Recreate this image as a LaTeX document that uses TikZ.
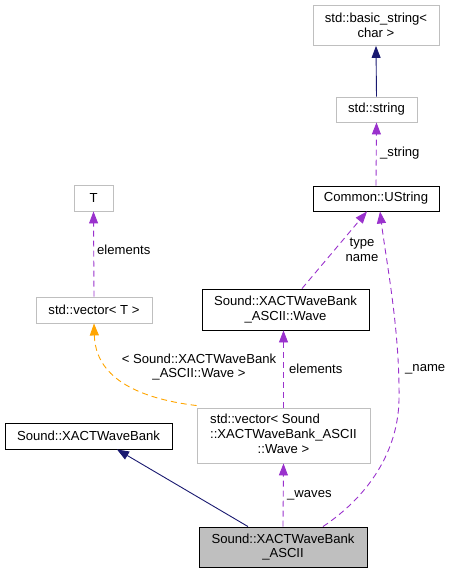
\documentclass[tikz,border=0pt]{standalone}
\usepackage{fontspec}
\setmainfont{Liberation Sans}
\usepackage{tikz}
\usetikzlibrary{arrows.meta,positioning,calc}

\definecolor{navyedge}{HTML}{191970}
\definecolor{purpleedge}{HTML}{9A32CD}
\definecolor{orangeedge}{HTML}{FFA500}
\definecolor{grayline}{HTML}{BFBFBF}

\begin{document}
\begin{tikzpicture}[x=1pt,y=-1pt,
    font=\fontsize{13.1}{14.8}\selectfont,
    classbox/.style={draw=black,line width=0.9pt,inner sep=0pt,align=center},
    extbox/.style={draw=grayline,line width=0.9pt,inner sep=0pt,align=center},
    inherit/.style={navyedge,line width=0.9pt,-{Triangle[length=12pt,width=9pt]}},
    usage/.style={purpleedge,line width=0.9pt,dash pattern=on 6pt off 4pt,
      -{Triangle[length=12pt,width=9pt]}},
    templ/.style={orangeedge,line width=0.9pt,dash pattern=on 6pt off 4pt,
      -{Triangle[length=12pt,width=9pt]}},
    edgelabel/.style={inner sep=0pt,align=center}]

  \useasboundingbox (0,0) rectangle (451,573);

  % std classes
  \node[extbox,minimum width=126,minimum height=40] (basic) at (376,25.5)
    {std::basic\_string<\\char >};
  \node[extbox,minimum width=81,minimum height=25] (string) at (376.5,109.5)
    {std::string};
  \node[extbox,minimum width=39,minimum height=26] (T) at (93.5,198) {T};
  \node[extbox,minimum width=116,minimum height=26] (vecT) at (94,310)
    {std::vector< T >};
  \node[extbox,minimum width=173,minimum height=55] (vecwave) at (283.5,435.5)
    {\begin{tabular}{@{}l@{}}std::vector< Sound\\::XACTWaveBank\_ASCII\\
     \multicolumn{1}{@{}c@{}}{::Wave >}\end{tabular}};

  % project classes
  \node[classbox,minimum width=126,minimum height=25] (ustring) at (376,198.5)
    {Common::UString};
  \node[classbox,minimum width=167,minimum height=41] (wave) at (285.5,309.5)
    {Sound::XACTWaveBank\\\_ASCII::Wave};
  \node[classbox,minimum width=167,minimum height=26] (bank) at (88.5,436)
    {Sound::XACTWaveBank};
  \node[classbox,fill=grayline,minimum width=168,minimum height=40] (ascii) at (283,547)
    {Sound::XACTWaveBank\\\_ASCII};

  % inheritance
  \draw[inherit] (string.north) -- (basic.south);
  \draw[inherit] ([xshift=-35]ascii.north) -- ([xshift=28.5]bank.south);

  % usage
  \draw[usage] (ustring.north) -- (string.south);
  \node[edgelabel,anchor=west] (lstring) at (380,153) {\_string};

  \draw[usage] (vecT.north) -- (T.south);
  \node[edgelabel,anchor=west] (lelemT) at (97,250) {elements};

  \draw[usage] ([xshift=16.5]wave.north) -- ([xshift=-9]ustring.south);
  \node[edgelabel] (ltype) at (362,250) {type\\name};

  \draw[usage] (vecwave.north) -- (vecwave.north |- wave.south);
  \node[edgelabel,anchor=west] (lelemW) at (289,369) {elements};

  \draw[usage] (ascii.north) -- (vecwave.south);
  \node[edgelabel,anchor=west] (lwaves) at (287,495) {\_waves};

  \draw[usage] ([xshift=40]ascii.north)
    .. controls (370,495) and (398,450) .. (399,400)
    .. controls (400,330) and (386,260) .. ([xshift=4]ustring.south);
  \node[edgelabel,anchor=west] (lname) at (405,369) {\_name};

  % template instance
  \draw[templ] ([yshift=2]vecwave.north west)
    .. controls (110,395) and (95,360) .. (vecT.south);
  \node[edgelabel] (ltempl) at (199,367) {< Sound::XACTWaveBank\\\_ASCII::Wave >};

\end{tikzpicture}
\end{document}
